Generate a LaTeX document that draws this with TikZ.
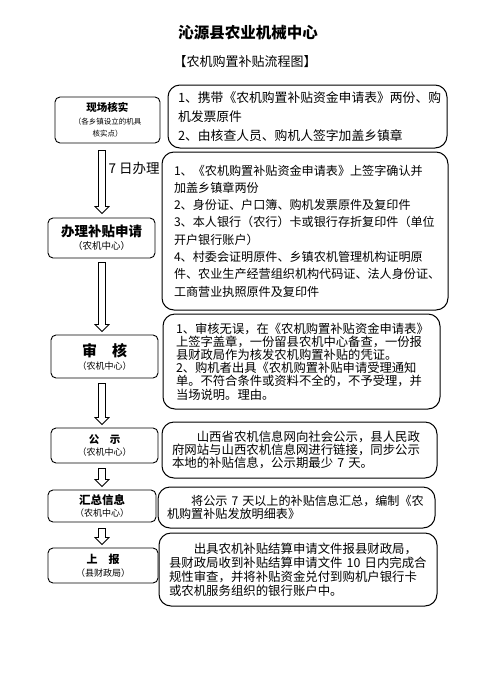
\documentclass[tikz,border=0pt]{standalone}
\usepackage{fontspec}
\setmainfont{Noto Sans CJK SC}
\usetikzlibrary{calc}
\newcommand\fsz[2]{\fontsize{#1}{#2}\selectfont}
\newcommand\hollowarrow[4]{%
  \draw[harrow] let \p1=(#1.south), \p2=(#2.north) in
    (98.5pt,\y1-#3) -- (98.5pt,\y2+#4+7pt) -- (95pt,\y2+#4+7pt) -- (102pt,\y2+#4)
    -- (109pt,\y2+#4+7pt) -- (105.5pt,\y2+#4+7pt) -- (105.5pt,\y1-#3) -- cycle;}
\begin{document}
\begin{tikzpicture}[x=1pt,y=-1pt,
  lbox/.style={draw, line width=0.9pt, rounded corners=5pt, align=center, inner sep=0pt},
  rbox/.style={draw, line width=1pt, rounded corners=12pt, align=left, anchor=center, inner ysep=2pt},
  harrow/.style={draw, line width=0.8pt, fill=white},
  ]
\useasboundingbox (0,0) rectangle (500,675);
\fill[white] (0,0) rectangle (500,675);

\node (title) at (248,33) {\fsz{15.5}{18}\bfseries 沁源县农业机械中心};
\node (sub) at (245,62) {\fsz{13}{15}\selectfont 【农机购置补贴流程图】};

% left boxes
\node[lbox, minimum width=105, minimum height=46] (l1) at (107.5,120)
  {{\fsz{10.5}{12}\bfseries 现场核实}\\[1pt]{\fsz{7.5}{12}\selectfont （各乡镇设立的机具}\\{\fsz{7.5}{12}\selectfont 核实点）}};
\node[lbox, minimum width=107, minimum height=40] (l2) at (101.5,238)
  {{\fsz{13.5}{15}\bfseries 办理补贴申请}\\[1pt]{\fsz{9.5}{11}\selectfont （农机中心）}};
\node[lbox, minimum width=107, minimum height=43] (l3) at (104.5,356.5)
  {{\fsz{15}{17}\bfseries 审　核}\\[1pt]{\fsz{9}{11}\selectfont （农机中心）}};
\node[lbox, minimum width=107, minimum height=35] (l4) at (104.5,445.5)
  {{\fsz{10.5}{12}\bfseries 公　示}\\[0pt]{\fsz{9}{11}\selectfont （农机中心）}};
\node[lbox, minimum width=108, minimum height=32] (l5) at (102,506)
  {{\fsz{11.5}{12}\bfseries 汇总信息}\\[0pt]{\fsz{9}{11}\selectfont （农机中心）}};
\node[lbox, minimum width=110, minimum height=35] (l6) at (103,565.5)
  {{\fsz{11}{12}\bfseries 上　报}\\[1pt]{\fsz{9}{11}\selectfont （县财政局）}};

% right boxes
\node[rbox, minimum height=63, inner xsep=10, text width=259,
  font=\fsz{12.8}{19}] (r1) at (307.5,116.5)
  {1、携带《农机购置补贴资金申请表》两份、购\\
   机发票原件\\
   2、由核查人员、购机人签字加盖乡镇章};
\node[rbox, minimum height=158, inner xsep=12, text width=262,
  font=\fsz{12.1}{17.3}] (r2) at (305,231)
  {1、《农机购置补贴资金申请表》上签字确认并\\
   加盖乡镇章两份\\
   2、身份证、户口簿、购机发票原件及复印件\\
   3、本人银行（农行）卡或银行存折复印件（单位\\
   开户银行账户）\\
   4、村委会证明原件、乡镇农机管理机构证明原\\
   件、农业生产经营组织机构代码证、法人身份证、\\
   工商营业执照原件及复印件};
\node[rbox, minimum height=95, inner xsep=13, text width=251,
  font=\fsz{12.3}{13.2}] (r3) at (301.5,361.5)
  {1、审核无误，在《农机购置补贴资金申请表》\\
   上签字盖章，一份留县农机中心备查，一份报\\
   县财政局作为核发农机购置补贴的凭证。\\
   2、购机者出具《农机购置补贴申请受理通知\\
   单。不符合条件或资料不全的，不予受理，并\\
   当场说明。理由。};
\node[rbox, minimum height=56, inner xsep=10, text width=255,
  font=\fsz{12.4}{13}] (r4) at (299.5,450)
  {　　山西省农机信息网向社会公示，县人民政\\
   府网站与山西农机信息网进行链接，同步公示\\
   本地的补贴信息，公示期最少~7~天。};
\node[rbox, minimum height=41, inner xsep=9, text width=259,
  font=\fsz{12.1}{12.5}] (r5) at (296.5,507.5)
  {\mbox{　　将公示~7~天以上的补贴信息汇总，编制《农}\\
   机购置补贴发放明细表》};
\node[rbox, minimum height=73, inner xsep=10, text width=258,
  font=\fsz{12.4}{14}] (r6) at (298,569.5)
  {　　出具农机补贴结算申请文件报县财政局，\\
   \mbox{县财政局收到补贴结算申请文件~10~日内完成合}\\
   规性审查，并将补贴资金兑付到购机户银行卡\\
   或农机服务组织的银行账户中。};

% arrows
\hollowarrow{l1}{l2}{7pt}{4pt}
\hollowarrow{l2}{l3}{4pt}{3pt}
\hollowarrow{l3}{l4}{5pt}{3pt}
\hollowarrow{l4}{l5}{5pt}{3pt}
\hollowarrow{l5}{l6}{6pt}{3pt}

\node[anchor=west, font=\fsz{13.5}{15}] (d7) at (105,168) {7 日办理};
\end{tikzpicture}
\end{document}
